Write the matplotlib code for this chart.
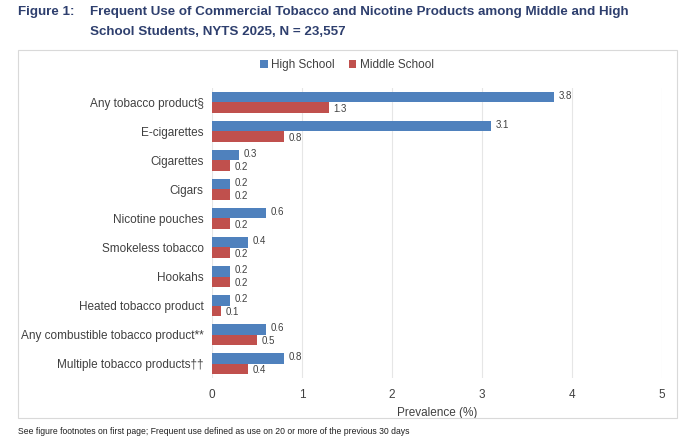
import matplotlib
matplotlib.use("Agg")
import matplotlib.pyplot as plt
import numpy as np
from matplotlib.patches import Rectangle

categories = ["Any tobacco product§", "E-cigarettes", "Cigarettes", "Cigars", "Nicotine pouches",
              "Smokeless tobacco", "Hookahs", "Heated tobacco product",
              "Any combustible tobacco product**", "Multiple tobacco products††"]
high = [3.8, 3.1, 0.3, 0.2, 0.6, 0.4, 0.2, 0.2, 0.6, 0.8]
middle = [1.3, 0.8, 0.2, 0.2, 0.2, 0.2, 0.2, 0.1, 0.5, 0.4]

plt.rcParams['font.family'] = ['Liberation Sans', 'DejaVu Sans']
W, H = 680, 441
fig = plt.figure(figsize=(6.8, 4.41), dpi=100)
fig.patches.append(Rectangle((18/W, 1-418/H), 659/W, 368/H, transform=fig.transFigure,
                             fill=False, edgecolor='#d9d9d9', lw=0.8))
ax = fig.add_axes([212/W, 1-378/H, 450/W, 290/H])
y = np.arange(len(categories))
h = 0.36
blue, red = '#4f81bd', '#c0504d'
ax.barh(y - h/2, high, h, color=blue, label='High School')
ax.barh(y + h/2, middle, h, color=red, label='Middle School')
for i in range(len(categories)):
    ax.text(high[i] + 0.05, y[i] - h/2 - 0.05, f"{high[i]:.1f}", fontsize=7, color='#404040', va='center')
    ax.text(middle[i] + 0.05, y[i] + h/2 + 0.05, f"{middle[i]:.1f}", fontsize=7, color='#404040', va='center')
ax.set_yticks(y)
ax.set_yticklabels(categories, fontsize=8.5, color='#404040')
ax.set_ylim(len(categories) - 0.5, -0.5)
ax.set_xlim(0, 5)
ax.set_xticks(range(6))
ax.tick_params(axis='x', labelsize=8.5, colors='#404040', length=0, pad=8)
ax.tick_params(axis='y', length=0, pad=6)
ax.grid(axis='x', color='#e6e6e6', lw=0.8)
ax.set_axisbelow(True)
for s in ax.spines.values():
    s.set_visible(False)
ax.set_xlabel("Prevalence (%)", fontsize=8.5, color='#404040', labelpad=4)
fig.legend(loc='center', bbox_to_anchor=(347/W, 1-65/H), ncol=2, frameon=False, fontsize=8.5,
           handlelength=0.6, handleheight=0.6, columnspacing=1.2, handletextpad=0.3,
           labelcolor='#404040')
fs = 9.6
fig.text(18/W, 1-12/H, "Figure 1:", fontsize=fs, fontweight='bold', color='#2e3f6e', va='center')
fig.text(90/W, 1-12/H, "Frequent Use of Commercial Tobacco and Nicotine Products among Middle and High",
         fontsize=fs, fontweight='bold', color='#2e3f6e', va='center')
fig.text(90/W, 1-32/H, "School Students, NYTS 2025, N = 23,557",
         fontsize=fs, fontweight='bold', color='#2e3f6e', va='center')
fig.text(18/W, 1-432/H, "See figure footnotes on first page; Frequent use defined as use on 20 or more of the previous 30 days",
         fontsize=6.2, color='#202020', va='center')
fig.savefig("out.png", dpi=100)
